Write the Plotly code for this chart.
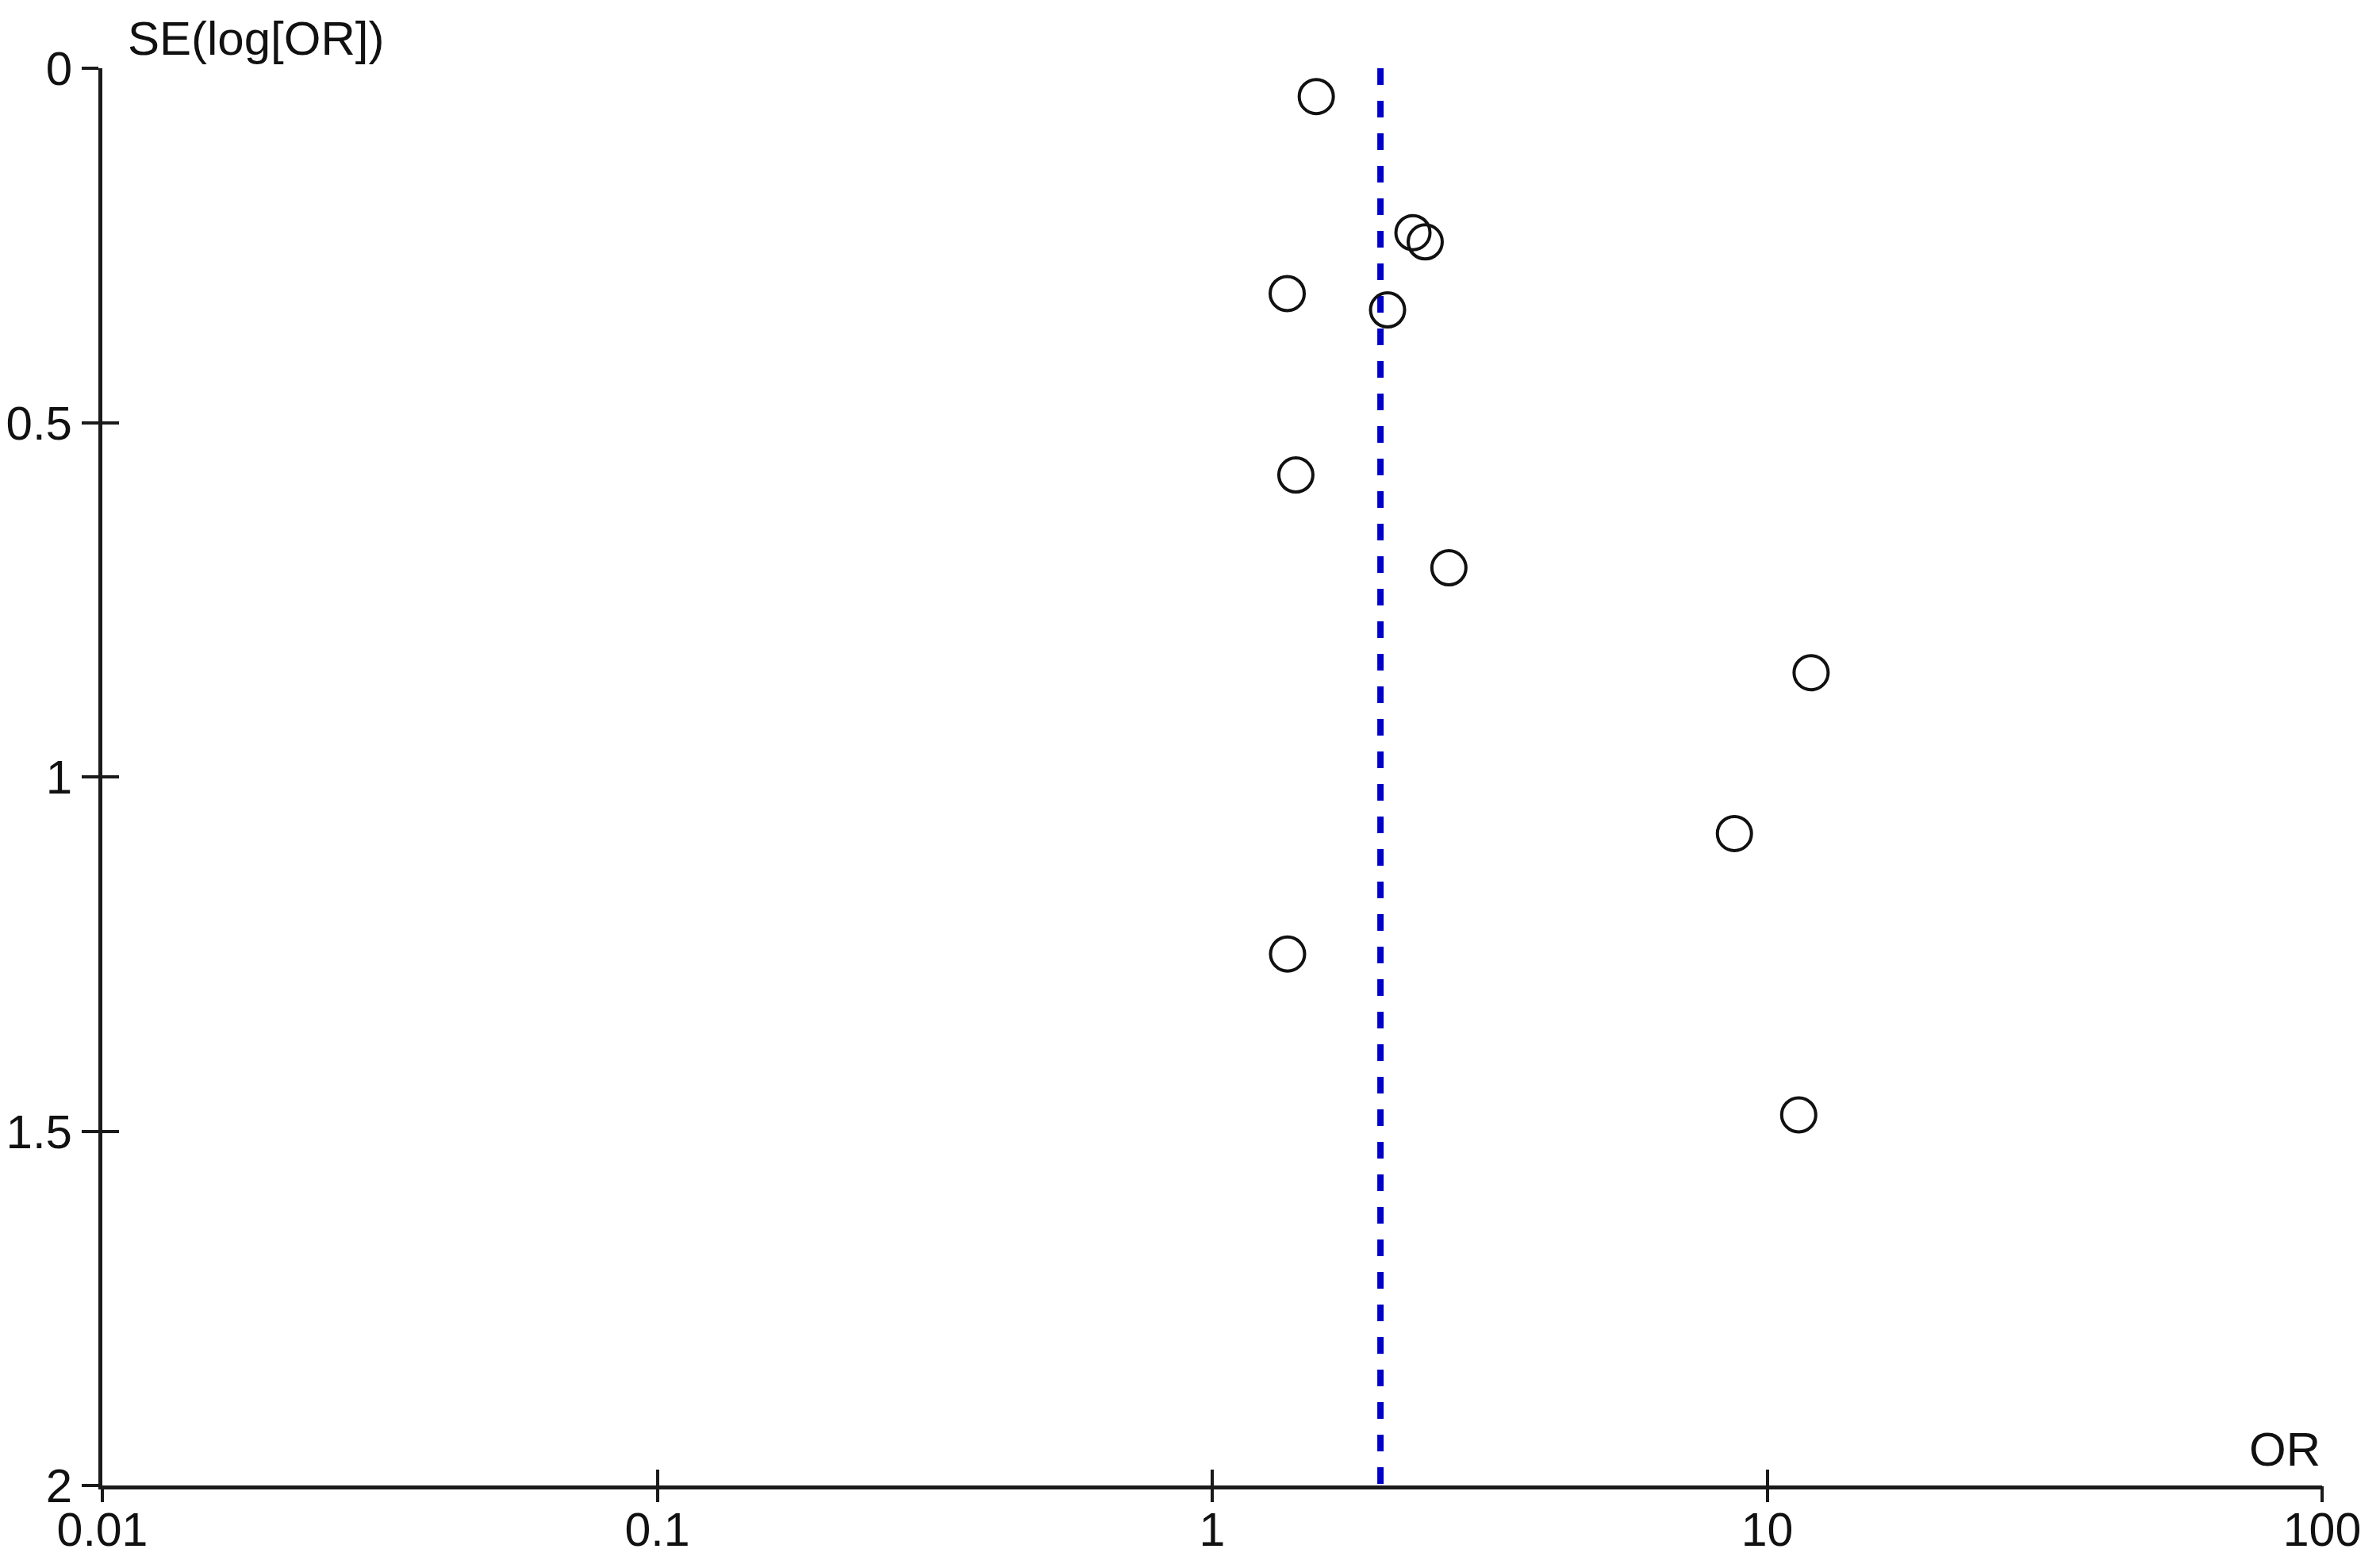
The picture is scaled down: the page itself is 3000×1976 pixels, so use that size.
import plotly.graph_objects as go

# Study estimates
odds_ratio = [1.54, 2.30, 2.42, 1.365, 2.07, 1.415, 2.67, 12.0, 8.73, 1.367, 11.4]
se_log_or = [0.040, 0.232, 0.245, 0.318, 0.341, 0.574, 0.705, 0.853, 1.080, 1.250, 1.477]

pooled_or = 2.01
se_span = [0, 2]

x_tickvals = [0.01, 0.1, 1, 10, 100]
x_ticktext = ["0.01", "0.1", "1", "10", "100"]
y_tickvals = [0, 0.5, 1, 1.5, 2]
y_ticktext = ["0", "0.5", "1", "1.5", "2"]

FONT = "Liberation Sans, Arial, sans-serif"
AX = "#1a1a1a"
TXT = "#111111"

fig = go.Figure()

fig.add_trace(go.Scatter(
    x=[pooled_or, pooled_or], y=se_span, mode="lines",
    line=dict(color="#0000C8", width=8, dash="21px,20px"),
    showlegend=False, hoverinfo="skip"))

fig.add_trace(go.Scatter(
    x=odds_ratio, y=se_log_or, mode="markers",
    marker=dict(symbol="circle-open", size=43, color="#111111",
                line=dict(width=4, color="#111111")),
    showlegend=False))

# invisible trace to hold the overlay axes (other halves of crossing ticks)
fig.add_trace(go.Scatter(x=[1], y=[1], xaxis="x2", yaxis="y2", mode="markers",
                         marker=dict(opacity=0), showlegend=False, hoverinfo="skip"))

common_x = dict(type="log", range=[-2, 2], tickmode="array",
                tickvals=x_tickvals, showgrid=False, zeroline=False, automargin=False,
                ticklen=20, tickwidth=4, tickcolor=AX)
common_y = dict(range=[2, 0], tickmode="array", tickvals=y_tickvals, automargin=False,
                showgrid=False, zeroline=False, ticklen=21, tickwidth=4, tickcolor=AX)

# page body has an 8px default margin, so the figure is sized to fit inside it
fig.update_layout(
    template="none",
    width=2984, height=1960,
    margin=dict(l=121, r=65, t=78, b=96, pad=0),
    paper_bgcolor="white", plot_bgcolor="white",
    font=dict(family=FONT, size=60, color=TXT),
    xaxis=dict(**common_x, ticks="inside", ticktext=x_ticktext,
               showline=True, linecolor=AX, linewidth=5,
               tickfont=dict(family=FONT, size=59, color=TXT)),
    yaxis=dict(**common_y, ticks="outside", ticktext=y_ticktext,
               showline=True, linecolor=AX, linewidth=5,
               tickfont=dict(family=FONT, size=60, color=TXT)),
    xaxis2=dict(**common_x, ticks="outside", overlaying="x", anchor="y2",
                showticklabels=False, showline=False),
    yaxis2=dict(**common_y, ticks="inside", overlaying="y", anchor="x2",
                showticklabels=False, showline=False),
    annotations=[
        dict(text="SE(log[OR])", xref="paper", yref="paper", x=0.0107, y=1.0,
             xanchor="left", yanchor="bottom", showarrow=False,
             font=dict(family=FONT, size=60, color=TXT), yshift=2),
        dict(text="OR", xref="paper", yref="paper", x=1.0, y=0.0,
             xanchor="right", yanchor="bottom", showarrow=False,
             font=dict(family=FONT, size=60, color=TXT), yshift=10),
    ],
)

fig.write_html("out.html")
